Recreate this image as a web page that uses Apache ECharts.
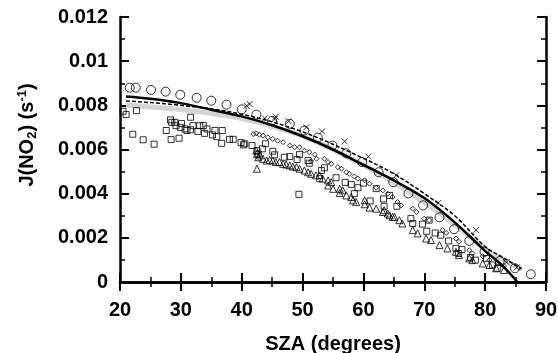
<!DOCTYPE html>
<html>
<head>
<meta charset="utf-8">
<script src="https://cdn.jsdelivr.net/npm/echarts@6/dist/echarts.min.js"></script>
<style>html,body{margin:0;padding:0;background:#fff}#c{width:558px;height:353px}</style>
</head>
<body>
<div id="c"></div>
<script>
// ---- data (SZA in degrees, J(NO2) in s^-1) ----
const xTicks = [20, 30, 40, 50, 60, 70, 80, 90];
const yTicks = [0, 0.002, 0.004, 0.006, 0.008, 0.01, 0.012];

const circles = [[21.6,0.0088],[22.6,0.0088],[25.1,0.0087],[27.5,0.00862],[29.9,0.00848],[32.6,0.00834],[35.0,0.00821],[37.5,0.00803],[40.0,0.00782],[42.4,0.00758],[45.0,0.0073],[47.9,0.00716],[50.3,0.00686],[52.5,0.00654],[54.9,0.00618],[57.2,0.00583],[59.8,0.00543],[62.5,0.00497],[64.9,0.00452],[67.4,0.00401],[69.8,0.00347],[72.5,0.00293],[74.9,0.00239],[77.4,0.00186],[79.9,0.00137],[82.4,0.00095],[84.9,0.00062],[87.5,0.00035]];

const crosses = [[40.8,0.00798],[41.3,0.00806],[43.8,0.00741],[45.4,0.00738],[45.6,0.00749],[47.7,0.00728],[50.6,0.007],[53.2,0.00682],[56.9,0.00637],[60.8,0.00568],[65.4,0.00483],[72.3,0.00358],[78.5,0.00235],[83.5,0.0009],[85.2,0.00066]];

const squares = [[20.5,0.00773],[21.0,0.00758],[22.7,0.00776],[22.1,0.00669],[23.8,0.00644],[25.6,0.00624],[27.6,0.00686],[28.3,0.00734],[28.5,0.00723],[29.0,0.00723],[29.2,0.00708],[29.9,0.007],[30.1,0.00718],[28.4,0.00645],[29.7,0.00651],[30.7,0.00693],[31.0,0.00686],[31.6,0.00746],[31.6,0.00689],[32.0,0.00708],[32.8,0.00682],[33.1,0.00708],[33.7,0.00708],[33.9,0.00673],[34.3,0.00693],[35.2,0.00666],[35.6,0.00686],[35.9,0.00658],[36.7,0.00628],[36.8,0.00686],[38.0,0.00646],[38.6,0.00646],[39.9,0.00631],[40.3,0.00621],
[40.5,0.00626],[41.7,0.00618],[42.5,0.00595],[42.7,0.0058],[43.4,0.00603],[43.9,0.00626],[45.1,0.00592],[45.4,0.00576],[47.0,0.00565],[47.9,0.00568],[49.1,0.00555],[49.4,0.00397],[49.5,0.00577],[50.9,0.0055],[51.1,0.00538],[53.1,0.00505],[53.6,0.00517],[52.8,0.00468],[55.5,0.00472],[57.0,0.00451],[58.0,0.00442],[59.1,0.00427],[58.5,0.004],[60.0,0.00448],[61.1,0.00367],[62.1,0.00423],[63.3,0.00376],[63.4,0.00343],[64.3,0.00392],[65.5,0.00343],[67.8,0.00287],[68.1,0.00265],[69.7,0.00262],[70.4,0.0023],[70.8,0.0028],[71.8,0.00222],[72.7,0.00212],[74.0,0.00186],[75.2,0.00152],[76.2,0.00147],[75.6,0.00129],[77.6,0.00111],[78.4,0.00099],[80.2,0.00107],[81.2,0.00077],[82.0,0.00062]];

const diamonds = [[41.9,0.0067],[42.4,0.00673],[42.9,0.00667],[43.5,0.00663],[44.3,0.00655],[45.1,0.00648],[45.9,0.0064],[46.8,0.00633],[47.9,0.00618],[48.7,0.0061],[49.5,0.0061],[50.3,0.00595],[51.1,0.00588],[52.0,0.00577],[52.3,0.00558],[51.4,0.00547],[53.6,0.00558],[54.2,0.00543],[54.7,0.00535],[55.8,0.0052],[56.4,0.00513],[57.2,0.00497],[57.7,0.0049],[58.5,0.00478],[59.1,0.00468],[60.2,0.0046],[61.0,0.00445],[62.1,0.00427],[63.2,0.00415],[64.0,0.004],[64.8,0.00385],[65.6,0.00362],[66.2,0.00347],[68.1,0.00332],[68.7,0.00317],[70.0,0.00287],[70.8,0.0028],[73.0,0.00235],[73.6,0.00222],[75.2,0.00197],[75.7,0.00182],[77.4,0.00144],[77.9,0.00129],[79.6,0.00117],[80.7,0.00099],[82.0,0.00084],[83.1,0.00072]];

const triangles = [[42.4,0.00595],[42.5,0.0058],[42.7,0.00565],[43.0,0.00573],[42.5,0.00513],[43.5,0.00558],[44.1,0.0055],[44.6,0.00553],[45.1,0.0055],[45.6,0.00543],[46.2,0.00543],[46.8,0.00535],[47.3,0.00532],[47.9,0.00528],[48.4,0.00523],[49.0,0.0052],[49.5,0.00513],[50.3,0.00505],[50.9,0.00497],[51.4,0.0049],[52.2,0.00483],[52.8,0.00483],[53.3,0.00468],[54.2,0.0046],[54.7,0.00452],[54.2,0.00437],[55.0,0.00422],[56.1,0.00422],[56.6,0.00415],[56.1,0.00403],[57.2,0.00392],[58.0,0.00385],[58.3,0.0037],[58.8,0.00362],[60.2,0.0037],[60.2,0.00352],[61.0,0.00337],[62.1,0.00332],[63.2,0.00317],[64.0,0.0031],[64.8,0.00295],[63.4,0.00325],[64.3,0.00302],[65.1,0.00295],[65.9,0.0028],[66.4,0.00265],[68.1,0.00235],[68.9,0.0022],[70.3,0.00197],[71.1,0.0019],[72.5,0.00167],[73.8,0.00152],[75.2,0.00137],[75.7,0.00122],[77.4,0.00107],[77.9,0.00099],[79.6,0.00084],[80.7,0.00077],[81.8,0.00062],[83.1,0.00054]];

const modelSolid = [[21,0.0084],[25,0.0083],[30,0.0081],[35,0.0078],[40,0.0075],[45,0.0071],[50,0.0066],[55,0.006],[60,0.0053],[65,0.0046],[70,0.0038],[75,0.0027],[80,0.0014],[83,0.0007],[85.3,0.0]];
const modelDashed = [[21,0.0082],[30,0.008],[40,0.0076],[50,0.0068],[60,0.0056],[65,0.0049],[70,0.004],[75,0.003],[80,0.0016],[83,0.0011],[86,0.0006]];
const modelGrey = [[21,0.008],[30,0.0078],[40,0.0074],[50,0.0066],[60,0.0053],[65,0.0045],[70,0.0036],[75,0.0026],[80,0.0015],[83,0.001],[86,0.0006]];

// ---- chart ----
const chart = echarts.init(document.getElementById('c'), null, {renderer: 'canvas'});
const FONT = 'Liberation Sans, Arial, sans-serif';
const axisLine = {show: true, lineStyle: {color: '#000', width: 2.5}};
const tick = {show: true, inside: true, length: 9, lineStyle: {color: '#000', width: 2}};
const minor = {show: true, splitNumber: 2, length: 5, lineStyle: {color: '#000', width: 1.5}};
const xBase = {type: 'value', min: xTicks[0], max: xTicks[xTicks.length-1], interval: 10,
  axisLine, axisTick: tick, minorTick: minor, splitLine: {show: false}, minorSplitLine: {show: false}};
const yBase = {type: 'value', min: yTicks[0], max: yTicks[yTicks.length-1], interval: 0.002,
  axisLine, axisTick: tick, minorTick: minor, splitLine: {show: false}, minorSplitLine: {show: false}};
const mk = {color: 'rgba(255,255,255,0)', borderColor: '#000', borderWidth: 1};

function scatter(data, symbol, size, z) {
  return {type: 'scatter', data, symbol, symbolSize: size, itemStyle: mk, z: z || 3, silent: true};
}
function line(data, style, z) {
  return {type: 'line', data, showSymbol: false, smooth: 0.35, lineStyle: style, z, silent: true};
}

chart.setOption({
  animation: false,
  backgroundColor: '#fff',
  grid: {left: 120, right: 12, top: 17, bottom: 71, containLabel: false, outerBoundsMode: 'none'},
  xAxis: [
    Object.assign({}, xBase, {position: 'bottom',
      axisLabel: {show: true, margin: 18, color: '#000', fontFamily: FONT, fontWeight: 'bold', fontSize: 20},
      name: 'SZA (degrees)', nameLocation: 'middle', nameGap: 52,
      nameTextStyle: {color: '#000', fontFamily: FONT, fontWeight: 'bold', fontSize: 20}}),
    Object.assign({}, xBase, {position: 'top', axisLabel: {show: false}})
  ],
  yAxis: [
    Object.assign({}, yBase, {position: 'left',
      axisLabel: {show: true, margin: 12, color: '#000', fontFamily: FONT, fontWeight: 'bold', fontSize: 20,
        formatter: v => String(parseFloat(v.toFixed(3)))}}),
    Object.assign({}, yBase, {position: 'right', axisLabel: {show: false}})
  ],
  graphic: [{
    type: 'text', x: 27, y: 135, rotation: Math.PI / 2,
    style: {
      text: '{a|J(NO}{s|2}{a|) (s}{p|-1}{a|)}',
      align: 'center', verticalAlign: 'middle',
      rich: {
        a: {fontFamily: FONT, fontWeight: 'bold', fontSize: 20, fill: '#000'},
        s: {fontFamily: FONT, fontWeight: 'bold', fontSize: 13, fill: '#000', padding: [10, 0, 0, 0]},
        p: {fontFamily: FONT, fontWeight: 'bold', fontSize: 13, fill: '#000', padding: [0, 0, 10, 0]}
      }
    }
  }],
  series: [
    line(modelGrey, {color: '#d4d4d4', width: 5}, 1),
    line(modelSolid, {color: '#000', width: 2.5}, 2),
    line(modelDashed, {color: '#000', width: 1.5, type: [4, 2]}, 2),
    scatter(circles, 'circle', 9),
    scatter(crosses, 'path://M0,0L10,10M10,0L0,10', 6),
    scatter(squares, 'rect', 6),
    scatter(diamonds, 'diamond', 5),
    scatter(triangles, 'triangle', 7)
  ]
});
</script>
</body>
</html>
